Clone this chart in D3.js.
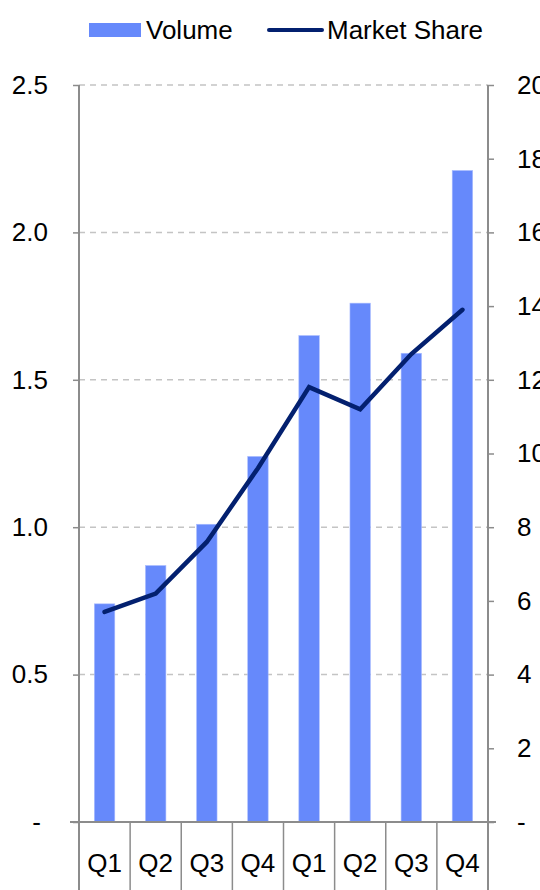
<!DOCTYPE html>
<html>
<head>
<meta charset="utf-8">
<script src="https://cdn.jsdelivr.net/npm/d3@7"></script>
<style>
  body { margin: 0; background: #fff; }
  svg { display: block; font-family: "Liberation Sans", Arial, sans-serif; }
</style>
</head>
<body>
<svg width="540" height="890"></svg>
<script>
// chart data
const quarters = ["Q1", "Q2", "Q3", "Q4", "Q1", "Q2", "Q3", "Q4"];
const volume = [0.74, 0.87, 1.01, 1.24, 1.65, 1.76, 1.59, 2.21];
const marketShare = [5.7, 6.2, 7.6, 9.6, 11.8, 11.2, 12.7, 13.9];
const leftTicks = [0, 0.5, 1.0, 1.5, 2.0, 2.5];
const rightTicks = [0, 2, 4, 6, 8, 10, 12, 14, 16, 18, 20];

const plot = {left: 79, right: 488, top: 85, bottom: 822};
const barColor = "#6689fb";
const lineColor = "#03206f";
const axisColor = "#8c8c8c";
const fontSize = "26px";

let svg = d3.select("svg");

let xScale = d3.scaleBand()
    .domain(d3.range(quarters.length))
    .range([plot.left, plot.right]);

let yLeft = d3.scaleLinear().domain([0, 2.5]).range([plot.bottom, plot.top]);
let yRight = d3.scaleLinear().domain([0, 20]).range([plot.bottom, plot.top]);

// gridlines (dashed)
svg.append("g")
    .selectAll("line")
    .data(leftTicks.filter(d => d > 0))
    .enter().append("line")
    .attr("x1", plot.left).attr("x2", plot.right)
    .attr("y1", d => yLeft(d)).attr("y2", d => yLeft(d))
    .style("stroke", "#c4c4c4")
    .style("stroke-width", 1.5)
    .style("stroke-dasharray", "6,5");

// bars
svg.append("g")
    .selectAll(".bar")
    .data(volume)
    .enter().append("rect")
    .attr("class", "bar")
    .attr("x", (d, i) => xScale(i) + xScale.bandwidth() * 0.3)
    .attr("width", xScale.bandwidth() * 0.4)
    .attr("y", d => yLeft(d))
    .attr("height", d => plot.bottom - yLeft(d))
    .style("fill", barColor)
    .style("stroke", "#a9bcff")
    .style("stroke-width", 0.6);

// left axis
let leftAxis = d3.axisLeft(yLeft)
    .tickValues(leftTicks)
    .tickSize(6)
    .tickFormat(d => d === 0 ? "-" : d.toFixed(1));
let gl = svg.append("g")
    .attr("transform", `translate(${plot.left},0)`)
    .call(leftAxis);
gl.select(".domain").remove();
gl.selectAll(".tick line").style("stroke", axisColor).style("stroke-width", 1.5);
gl.selectAll(".tick text")
    .style("font-size", fontSize).style("fill", "#000")
    .attr("x", -31);
gl.selectAll(".tick").filter(d => d === 0).select("text").attr("x", -38);

// right axis
let rightAxis = d3.axisRight(yRight)
    .tickValues(rightTicks)
    .tickSize(6)
    .tickFormat(d => d === 0 ? "-" : d);
let gr = svg.append("g")
    .attr("transform", `translate(${plot.right},0)`)
    .call(rightAxis);
gr.select(".domain").remove();
gr.selectAll(".tick line").style("stroke", axisColor).style("stroke-width", 1.5);
gr.selectAll(".tick text")
    .style("font-size", fontSize).style("fill", "#000")
    .attr("x", 29);

// vertical axis lines run down through the category row
svg.append("line")
    .attr("x1", plot.left).attr("x2", plot.left)
    .attr("y1", plot.top).attr("y2", 890)
    .style("stroke", axisColor).style("stroke-width", 2);
svg.append("line")
    .attr("x1", plot.right).attr("x2", plot.right)
    .attr("y1", plot.top).attr("y2", 890)
    .style("stroke", axisColor).style("stroke-width", 2);

// category axis
svg.append("line")
    .attr("x1", plot.left - 9).attr("x2", plot.right + 8)
    .attr("y1", plot.bottom).attr("y2", plot.bottom)
    .style("stroke", axisColor).style("stroke-width", 2);

svg.append("g")
    .selectAll("line")
    .data(d3.range(1, quarters.length))
    .enter().append("line")
    .attr("x1", d => xScale(d)).attr("x2", d => xScale(d))
    .attr("y1", plot.bottom).attr("y2", 890)
    .style("stroke", axisColor).style("stroke-width", 1.5);

svg.append("g")
    .selectAll("text")
    .data(quarters)
    .enter().append("text")
    .attr("x", (d, i) => xScale(i) + xScale.bandwidth() / 2)
    .attr("y", 872)
    .style("text-anchor", "middle")
    .style("font-size", fontSize)
    .text(d => d);

// market share line
let line = d3.line()
    .x((d, i) => xScale(i) + xScale.bandwidth() / 2)
    .y(d => yRight(d));

svg.append("path")
    .datum(marketShare)
    .attr("d", line)
    .style("fill", "none")
    .style("stroke", lineColor)
    .style("stroke-width", 4.5)
    .style("stroke-linecap", "round")
    .style("stroke-linejoin", "miter");

// legend
let legend = svg.append("g");
legend.append("rect")
    .attr("x", 89).attr("y", 23)
    .attr("width", 52).attr("height", 14)
    .style("fill", barColor);
legend.append("text")
    .attr("x", 146).attr("y", 39)
    .style("font-size", fontSize)
    .text("Volume");
legend.append("line")
    .attr("x1", 269).attr("x2", 322)
    .attr("y1", 30).attr("y2", 30)
    .style("stroke", lineColor)
    .style("stroke-width", 4)
    .style("stroke-linecap", "round");
legend.append("text")
    .attr("x", 327).attr("y", 39)
    .style("font-size", fontSize)
    .text("Market Share");
</script>
</body>
</html>
